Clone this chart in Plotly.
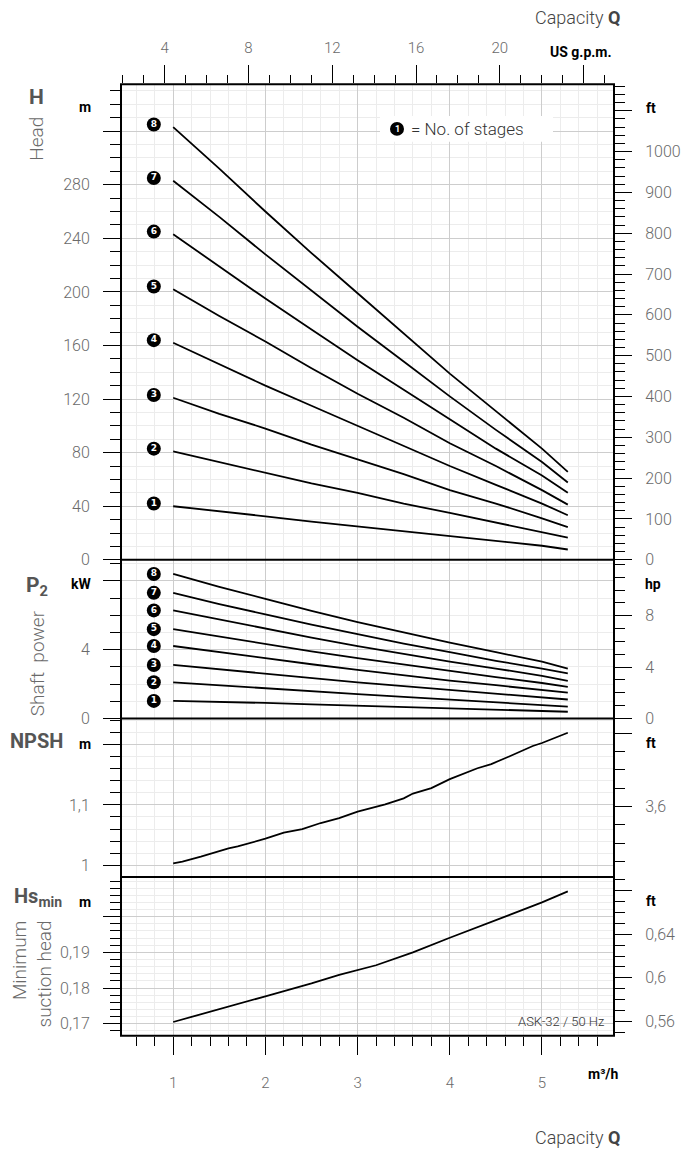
import plotly.graph_objects as go

# ---- data ----
Q_STAGE = [1.0, 1.5, 2.0, 2.5, 3.0, 3.5, 4.0, 4.5, 5.0, 5.28]   # m3/h
STAGE_NO = ["1", "2", "3", "4", "5", "6", "7", "8"]

HEAD_1 = [40, 36.5, 32.5, 28.5, 25, 21, 17.5, 14, 10.5, 7.7]
HEAD_2 = [81, 73, 65, 57, 50, 42, 35, 28, 21, 16.6]
HEAD_3 = [121, 109, 98, 86, 75, 64, 52, 42, 31, 24.4]
HEAD_4 = [162, 146, 130, 115, 100, 85, 70, 56, 42, 33.3]
HEAD_5 = [202, 182, 163, 143, 124, 106, 87, 70, 52, 41.2]
HEAD_6 = [243, 219, 195, 172, 149, 127, 105, 83, 63, 50]
HEAD_7 = [283, 256, 228, 201, 174, 148, 122, 97, 73, 57.7]
HEAD_8 = [323, 292, 260, 229, 199, 169, 139, 111, 83, 65.7]
HEAD = [HEAD_1, HEAD_2, HEAD_3, HEAD_4, HEAD_5, HEAD_6, HEAD_7, HEAD_8]

P2_1 = [1.02, 0.97, 0.9, 0.82, 0.74, 0.66, 0.58, 0.5, 0.43, 0.39]
P2_2 = [2.1, 1.92, 1.75, 1.58, 1.41, 1.25, 1.1, 0.96, 0.8, 0.69]
P2_3 = [3.11, 2.85, 2.6, 2.35, 2.1, 1.88, 1.66, 1.45, 1.25, 1.1]
P2_4 = [4.21, 3.85, 3.5, 3.15, 2.82, 2.5, 2.2, 1.93, 1.66, 1.5]
P2_5 = [5.19, 4.75, 4.32, 3.9, 3.5, 3.12, 2.75, 2.4, 2.06, 1.84]
P2_6 = [6.28, 5.75, 5.2, 4.7, 4.2, 3.75, 3.3, 2.9, 2.48, 2.19]
P2_7 = [7.3, 6.65, 6.05, 5.45, 4.9, 4.35, 3.85, 3.35, 2.9, 2.62]
P2_8 = [8.4, 7.65, 6.95, 6.25, 5.6, 5.0, 4.4, 3.85, 3.3, 2.9]
POWER = [P2_1, P2_2, P2_3, P2_4, P2_5, P2_6, P2_7, P2_8]

Q_NPSH = [1.0, 1.1, 1.3, 1.6, 1.7, 2.0, 2.2, 2.4, 2.6, 2.8, 3.0, 3.3,
          3.5, 3.6, 3.8, 4.0, 4.3, 4.45, 4.65, 4.9, 5.0, 5.28]
NPSH = [1.003, 1.006, 1.014, 1.028, 1.031, 1.044, 1.054, 1.06, 1.07, 1.078,
        1.089, 1.101, 1.111, 1.119, 1.128, 1.143, 1.161, 1.168, 1.181, 1.198,
        1.203, 1.22]

Q_HS = [1.0, 1.5, 2.0, 2.5, 2.8, 3.2, 3.6, 4.0, 4.4, 5.0, 5.28]
HS_MIN = [0.1705, 0.174, 0.1777, 0.1813, 0.1837, 0.1864, 0.19, 0.1941,
          0.198, 0.204, 0.2071]

# tick labels
Q_TICKS = [1, 2, 3, 4, 5]
GPM_TICKS = [4, 8, 12, 16, 20, 24]
GPM_TEXT = ["4", "8", "12", "16", "20", " "]
H_TICKS = [0, 40, 80, 120, 160, 200, 240, 280, 320]
H_TEXT = ["0", "40", "80", "120", "160", "200", "240", "280", " "]
FT_TICKS = [0, 100, 200, 300, 400, 500, 600, 700, 800, 900, 1000, 1100]
FT_TEXT = ["0", "100", "200", "300", "400", "500", "600", "700", "800", "900", "1000", " "]
KW_TICKS = [0, 4, 8]
KW_TEXT = ["0", "4", " "]
HP_TICKS = [0, 4, 8]
HP_TEXT = ["0", "4", "8"]
NPSH_TICKS = [1.0, 1.1, 1.2]
NPSH_TEXT = ["1", "1,1", " "]
NPSH_FT_TICKS = [3.6, 4.0]
NPSH_FT_TEXT = ["3,6", " "]
HS_TICKS = [0.17, 0.18, 0.19, 0.20]
HS_TEXT = ["0,17", "0,18", "0,19", " "]
HS_FT_TICKS = [0.56, 0.60, 0.64, 0.68]
HS_FT_TEXT = ["0,56", "0,6", "0,64", " "]

M_TO_FT = 1 / 0.3048
KW_TO_HP = 1 / 0.7457
M3H_TO_GPM = 4.4029

# ---- style ----
W, H = 683, 1157
GRID_MAJOR = "#cdcdcd"
GRID_MINOR = "#ececec"
LABEL_COLOR = "#6a6a6a"
FONT = "Roboto, 'Open Sans', sans-serif"
TICK_FONT = dict(family=FONT, size=16, color=LABEL_COLOR, weight=300)


def px(x):
    return x / W


def py(y):
    return 1 - y / H


XDOM = [px(121), px(614)]
XR = [0.434, 5.781]
PANELS = {  # y-pixel top / bottom
    "head": (85, 564.7),
    "p2": (564.7, 724.7),
    "npsh": (724.7, 884.7),
    "hs": (884.7, 1044.7),
}
Y_RANGE = {
    "head": [0, 355],
    "p2": [0, 9.22],
    "npsh": [0.9802, 1.2438],
    "hs": [0.16667, 0.21111],
}


def dom(name):
    top, bot = PANELS[name]
    return [py(bot), py(top)]


def x_panel(anchor, bottom=False):
    d = dict(
        domain=XDOM, range=XR, anchor=anchor, tickmode="array", tickvals=Q_TICKS,
        showgrid=True, gridcolor=GRID_MAJOR, gridwidth=1.3, zeroline=False,
        showline=False, fixedrange=True,
        minor=dict(tickmode="linear", tick0=0, dtick=0.2, showgrid=True,
                   gridcolor=GRID_MINOR, gridwidth=1, ticks=""),
        showticklabels=False, ticks="",
    )
    if bottom:
        d.update(ticks="outside", ticklen=18, tickwidth=1.3, tickcolor="black",
                 showticklabels=True, tickfont=dict(TICK_FONT, size=15),
                 ticklabelstandoff=15)
        d["minor"].update(ticks="outside", ticklen=9, tickwidth=1.3, tickcolor="black")
    return d


def y_left(name, tickvals, ticktext, minor_dtick, tick0):
    return dict(
        domain=dom(name), range=Y_RANGE[name], anchor="x", side="left",
        tickmode="array", tickvals=tickvals, ticktext=ticktext,
        ticks="outside", ticklen=17, tickwidth=1.3, tickcolor="black",
        tickfont=TICK_FONT, ticklabelstandoff=10,
        showgrid=True, gridcolor=GRID_MAJOR, gridwidth=1.3, zeroline=False,
        showline=False, fixedrange=True,
        minor=dict(tickmode="linear", tick0=tick0, dtick=minor_dtick,
                   ticks="outside", ticklen=10, tickwidth=1.3, tickcolor="black",
                   showgrid=True, gridcolor=GRID_MINOR, gridwidth=1),
    )


def y_right(over, name, factor, tickvals, ticktext, minor_dtick, tick0):
    r = Y_RANGE[name]
    return dict(
        overlaying=over, range=[r[0] * factor, r[1] * factor], anchor="x",
        side="right", tickmode="array", tickvals=tickvals, ticktext=ticktext,
        ticks="outside", ticklen=17, tickwidth=1.3, tickcolor="black",
        tickfont=TICK_FONT, ticklabelstandoff=10,
        showgrid=False, zeroline=False, showline=False, fixedrange=True,
        minor=dict(tickmode="linear", tick0=tick0, dtick=minor_dtick,
                   ticks="outside", ticklen=10, tickwidth=1.3, tickcolor="black",
                   showgrid=False),
    )


fig = go.Figure()

# head curves
for curve in HEAD:
    fig.add_trace(go.Scatter(x=Q_STAGE, y=curve, mode="lines",
                             line=dict(color="black", width=1.8),
                             xaxis="x", yaxis="y", hoverinfo="skip"))
# shaft power curves
for curve in POWER:
    fig.add_trace(go.Scatter(x=Q_STAGE, y=curve, mode="lines",
                             line=dict(color="black", width=1.8),
                             xaxis="x2", yaxis="y2", hoverinfo="skip"))
# NPSH
fig.add_trace(go.Scatter(x=Q_NPSH, y=NPSH, mode="lines",
                         line=dict(color="black", width=1.8),
                         xaxis="x3", yaxis="y3", hoverinfo="skip"))
# Hs min
fig.add_trace(go.Scatter(x=Q_HS, y=HS_MIN, mode="lines",
                         line=dict(color="black", width=1.8),
                         xaxis="x4", yaxis="y4", hoverinfo="skip"))

# stage badges
badge = dict(mode="markers+text", text=STAGE_NO, textposition="middle center",
             marker=dict(size=14, color="black"),
             textfont=dict(family="DejaVu Sans", size=9, color="white", weight="bold"),
             hoverinfo="skip", cliponaxis=False)
fig.add_trace(go.Scatter(x=[0.79] * len(HEAD), y=[c[0] + 2 for c in HEAD],
                         xaxis="x", yaxis="y", **badge))
fig.add_trace(go.Scatter(x=[0.79] * len(POWER), y=[c[0] for c in POWER],
                         xaxis="x2", yaxis="y2", **badge))

# empty traces so the secondary axes get drawn
for xa, ya in [("x", "y5"), ("x2", "y6"), ("x3", "y7"), ("x4", "y8"), ("x5", "y")]:
    fig.add_trace(go.Scatter(x=[None], y=[None], xaxis=xa, yaxis=ya,
                             hoverinfo="skip"))

# ---- annotations ----
ann = []


def text(x, y, s, size=15, color="black", bold=False, xanchor="center",
         angle=0, align="center"):
    ann.append(dict(
        x=px(x), y=py(y), xref="paper", yref="paper", text=s, showarrow=False,
        xanchor=xanchor, yanchor="middle", textangle=angle, align=align,
        font=dict(family=FONT, size=size, color=color,
                  weight="bold" if bold else 300),
    ))


text(622, 18, "Capacity <b>Q</b>", size=18, color="#444", xanchor="right")
text(622, 1147, "Capacity <b>Q</b>", size=18, color="#444", xanchor="right")
text(581, 52, "US g.p.m.", size=14, bold=True)
text(603, 1083, "m³/h", size=14, bold=True)

text(36, 98, "H", size=21, color="#555", bold=True)
text(37, 140, "Head", size=19, color=LABEL_COLOR, angle=-90)
text(37, 592, "P<sub>2</sub>", size=21, color="#555", bold=True)
text(37, 669, "Shaft  power", size=19, color=LABEL_COLOR, angle=-90)
text(36, 747, "NPSH", size=20, color="#555", bold=True)
text(38, 905, "Hs<sub>min</sub>", size=20, color="#555", bold=True)
text(32, 983, "Minimum<br>suction head", size=19, color=LABEL_COLOR,
     angle=-90, align="right")

for (x, y, s) in [(85, 108, "m"), (81, 589, "kW"), (85, 750, "m"), (85, 910, "m"),
                  (651, 109, "ft"), (653, 589, "hp"), (651, 749, "ft"), (651, 909, "ft")]:
    text(x, y, s, size=14, bold=True)

text(606, 1030, "ASK-32 / 50 Hz", size=13, color="#333", xanchor="right")

# legend
text(397, 130, "1", size=9, color="white", bold=True)
text(409, 130, "= No. of stages", size=17, color="#333", xanchor="left")

# ---- shapes: panel frame + legend box ----
shapes = []
for yy in [85, 564.7, 724.7, 884.7, 1044.7]:
    shapes.append(dict(type="line", xref="paper", yref="paper", x0=px(120), x1=px(615),
                       y0=py(yy), y1=py(yy), line=dict(color="black", width=2), layer="above"))
for xx in [121, 614]:
    shapes.append(dict(type="line", xref="paper", yref="paper", x0=px(xx), x1=px(xx),
                       y0=py(85), y1=py(1044.7), line=dict(color="black", width=2), layer="above"))
shapes.append(dict(type="rect", xref="paper", yref="paper", x0=px(380), x1=px(553),
                   y0=py(143), y1=py(117), fillcolor="white", line=dict(width=0), layer="above"))
shapes.append(dict(type="circle", xref="paper", yref="paper", x0=px(390), x1=px(404),
                   y0=py(137), y1=py(123), fillcolor="black", line=dict(width=0), layer="above"))

fig.update_layout(
    width=W, height=H,
    margin=dict(l=0, r=0, t=0, b=0),
    paper_bgcolor="white", plot_bgcolor="white",
    showlegend=False,
    xaxis=x_panel("y"),
    xaxis2=x_panel("y2"),
    xaxis3=x_panel("y3"),
    xaxis4=x_panel("y4", bottom=True),
    xaxis5=dict(
        overlaying="x", side="top", anchor="y",
        range=[XR[0] * M3H_TO_GPM, XR[1] * M3H_TO_GPM],
        tickmode="array", tickvals=GPM_TICKS, ticktext=GPM_TEXT,
        ticks="outside", ticklen=18, tickwidth=1.3, tickcolor="black",
        tickfont=dict(TICK_FONT, size=15), ticklabelstandoff=6,
        showgrid=False, zeroline=False, showline=False, fixedrange=True,
        minor=dict(tickmode="linear", tick0=0, dtick=1, ticks="outside",
                   ticklen=8, tickwidth=1.3, tickcolor="black", showgrid=False),
    ),
    yaxis=y_left("head", H_TICKS, H_TEXT, 10, 0),
    yaxis2=y_left("p2", KW_TICKS, KW_TEXT, 1, 0),
    yaxis3=y_left("npsh", NPSH_TICKS, NPSH_TEXT, 0.02, 1.0),
    yaxis4=y_left("hs", HS_TICKS, HS_TEXT, 0.002, 0.17),
    yaxis5=y_right("y", "head", M_TO_FT, FT_TICKS, FT_TEXT, 20, 0),
    yaxis6=y_right("y2", "p2", KW_TO_HP, HP_TICKS, HP_TEXT, 1, 0),
    yaxis7=y_right("y3", "npsh", M_TO_FT, NPSH_FT_TICKS, NPSH_FT_TEXT, 0.1, 3.6),
    yaxis8=y_right("y4", "hs", M_TO_FT, HS_FT_TICKS, HS_FT_TEXT, 0.01, 0.56),
    annotations=ann,
    shapes=shapes,
)

# page body has an 8px default margin; drop it so the figure sits at 0,0
fig.write_html("out.html", config={"displayModeBar": False},
               post_script="document.body.style.margin='0';")
